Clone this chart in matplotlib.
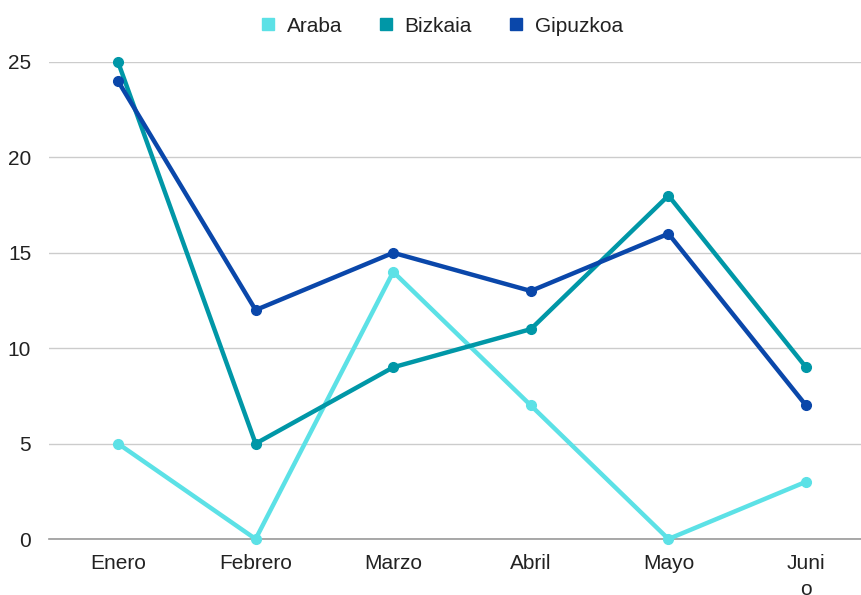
import matplotlib.pyplot as plt
from matplotlib.lines import Line2D

plt.rcParams['font.family'] = ['Liberation Sans', 'DejaVu Sans']

months = ['Enero', 'Febrero', 'Marzo', 'Abril', 'Mayo', 'Juni\no']
araba = [5, 0, 14, 7, 0, 3]
bizkaia = [25, 5, 9, 11, 18, 9]
gipuzkoa = [24, 12, 15, 13, 16, 7]

names = ['Araba', 'Bizkaia', 'Gipuzkoa']
colors = ['#5CE1E6', '#0097A7', '#0A47AA']

fig = plt.figure(figsize=(8.62, 5.95), dpi=100)
ax = fig.add_axes([0.0571, 0.0941, 0.9578, 0.8017])

x = range(len(months))
for vals, c in zip([araba, bizkaia, gipuzkoa], colors):
    ax.plot(x, vals, color=c, lw=3.2, marker='o', ms=7, clip_on=False,
            solid_capstyle='round', zorder=3)

ax.set_xlim(-0.5, 5.5)
ax.set_ylim(0, 25)
ax.set_yticks([0, 5, 10, 15, 20, 25])
ax.set_xticks(list(x))
ax.set_xticklabels(months, linespacing=1.45, va='top')
ax.tick_params(axis='both', length=0, labelsize=15, colors='#222222')
ax.tick_params(axis='y', pad=13)
ax.tick_params(axis='x', pad=11)
ax.grid(axis='y', color='#cccccc', lw=1)
ax.set_axisbelow(True)
for s in ['top', 'right', 'left']:
    ax.spines[s].set_visible(False)
ax.spines['bottom'].set_color('#999999')
ax.spines['bottom'].set_linewidth(1.2)

handles = [Line2D([], [], color=c, marker='s', ms=8, ls='none') for c in colors]
fig.legend(handles, names, loc='center', bbox_to_anchor=(0.513, 0.956), ncol=3,
           frameon=False, fontsize=15, handlelength=0.6, handletextpad=0.6,
           columnspacing=1.8, labelcolor='#222222')

fig.savefig('out.png', dpi=100)
